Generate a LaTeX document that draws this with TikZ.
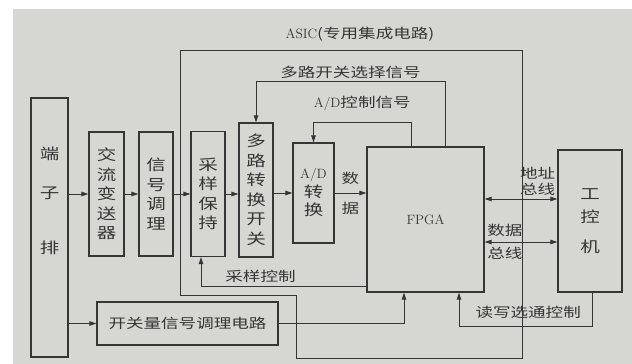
\documentclass[tikz,border=0pt]{standalone}
\usepackage{fontspec}
\newfontfamily\cjk[FakeStretch=1.3]{Noto Sans CJK SC}
\usetikzlibrary{arrows.meta}
\definecolor{paper}{HTML}{D6D6D3}
\definecolor{ink}{HTML}{353535}

\begin{document}
\begin{tikzpicture}[
    x = 1pt, y = -1pt, line width = 0.9pt, draw = ink, text = ink,
    >= {Triangle[length = 7pt, width = 4.5pt]},
    blk/.style = {draw, line width = 1.2pt, inner sep = 0pt, align = center,
                  font = \cjk\fontsize{15}{19.5}\selectfont},
    lbl/.style = {font = \cjk\fontsize{13.5}{16}\selectfont, inner sep = 1pt}
  ]
  \useasboundingbox (0,0) rectangle (632,364);
  \fill[paper] (13,9) rectangle (632,364);

  % ASIC
  \draw (180,50) -- (522,50) -- (522,358) -- (296,358) -- (296,295)
    -- (180,295) -- cycle;
  \node[lbl] (asiclbl) at (360,34)
    {{\rmfamily\fontsize{13.5}{15}\selectfont ASIC}(专用集成电路)};

  % blocks
  \node[blk, minimum width = 37pt, minimum height = 259pt] (dzp) at (49.5,227.5)
    {\raisebox{25pt}[\height][\depth]{\begin{tabular}{@{}c@{}}端\\[20pt]子\\[35pt]排\end{tabular}}};
  \node[blk, minimum width = 35pt, minimum height = 124pt] (jlbs) at (106.5,194)
    {交\\流\\变\\送\\器};
  \node[blk, minimum width = 34pt, minimum height = 124pt] (xhtl) at (156,194)
    {信\\号\\调\\理};
  \node[blk, minimum width = 34pt, minimum height = 125pt] (cybc) at (208,194)
    {采\\样\\保\\持};
  \node[blk, minimum width = 34pt, minimum height = 134pt] (dlzh) at (256,190)
    {多\\路\\转\\换\\开\\关};
  \node[blk, minimum width = 41pt, minimum height = 100pt] (adzh) at (313.5,193)
    {{\rmfamily\fontsize{13.5}{15}\selectfont A/D}\\[-1pt]转\\[-1pt]换};
  \node[blk, minimum width = 117pt, minimum height = 145pt,
        font = \rmfamily\fontsize{13.5}{15}\selectfont] (fpga) at (425.5,219.5) {FPGA};
  \node[blk, minimum width = 64pt, minimum height = 142pt] (gkj) at (590,221)
    {工\\[4pt]控\\[10pt]机};
  \node[blk, minimum width = 181pt, minimum height = 43pt,
        font = \cjk\fontsize{13.5}{16}\selectfont] (kgl) at (187.5,323.5)
    {开关量信号调理电路};

  % signal path
  \draw[->] (dzp.east |- jlbs.west) -- (jlbs.west);
  \draw[->] (jlbs.east) -- (xhtl.west);
  \draw[->] (xhtl.east) -- (cybc.west);
  \draw[->] (cybc.east) -- (cybc.east -| dlzh.west);
  \draw[->] (dlzh.east |- adzh.west) -- (adzh.west);
  \draw[->] (adzh.east) -- (adzh.east -| fpga.west)
    node[lbl, midway, align = center] {数\\[14pt]据};
  \draw[->] (dzp.east |- kgl.west) -- (kgl.west);
  \draw[->] (kgl.east) -| ([xshift=-21.5pt]fpga.south);

  % control lines
  \draw[->] ([yshift=6pt]fpga.south west) -| ([xshift=-7pt]cybc.south)
    node[lbl, pos = 0.32, above = 3pt] {采样控制};
  \draw[->] ([xshift=19.5pt]fpga.north) -- ++(0,-65) -| (dlzh.north)
    node[lbl, pos = 0.25, above = 1pt] {多路开关选择信号};
  \draw[->] ([xshift=-14.5pt]fpga.north) -- ++(0,-24) -| (adzh.north)
    node[lbl, pos = 0.25, above = 10pt]
    {{\rmfamily\fontsize{13.5}{15}\selectfont A/D}控制信号};
  \draw[->] ([xshift=2pt]gkj.south) -- ++(0,34) -| ([xshift=33.5pt]fpga.south)
    node[lbl, pos = 0.24, above = 7pt] {读写选通控制};

  % buses
  \coordinate (abus) at ([yshift=20.5pt]fpga.east);
  \coordinate (dbus) at ([yshift=-22.5pt]fpga.east);
  \draw[<->] (abus) -- (abus -| gkj.west)
    node[lbl, pos = 0.73, above = 2pt, align = center] {地址\\总线};
  \draw[<->] (dbus) -- (dbus -| gkj.west)
    node[lbl, pos = 0.28, align = center] {数据\\[7pt]总线};

\end{tikzpicture}
\end{document}
